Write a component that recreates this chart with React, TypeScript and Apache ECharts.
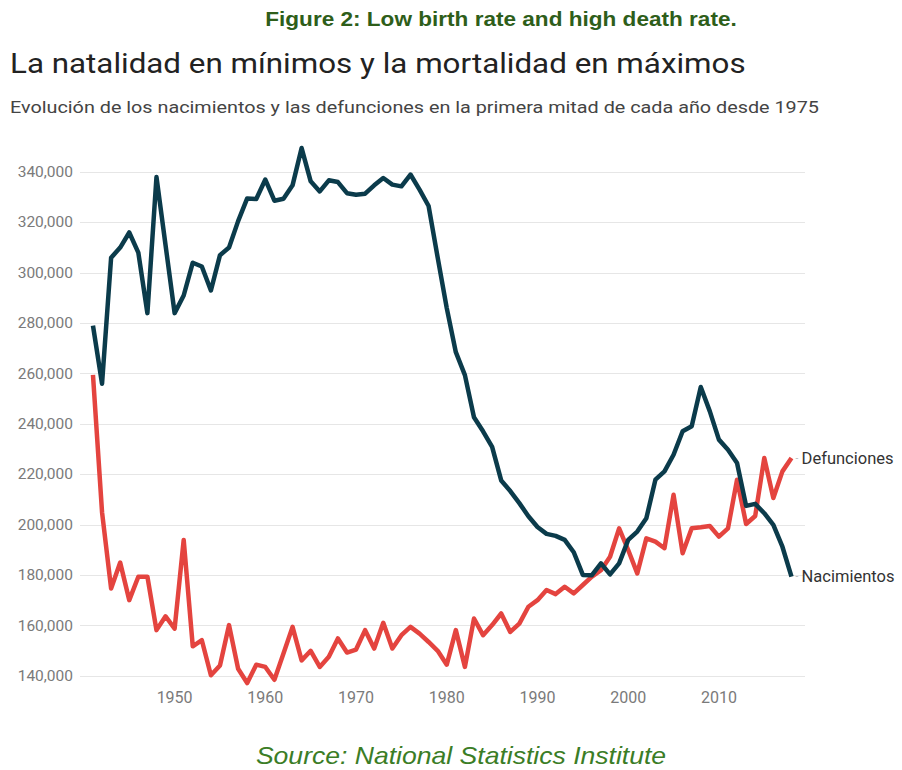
import React, { useEffect, useRef } from "react";
import * as echarts from "echarts";

const years = [
  1941, 1942, 1943, 1944, 1945, 1946, 1947, 1948, 1949, 1950,
  1951, 1952, 1953, 1954, 1955, 1956, 1957, 1958, 1959, 1960,
  1961, 1962, 1963, 1964, 1965, 1966, 1967, 1968, 1969, 1970,
  1971, 1972, 1973, 1974, 1975, 1976, 1977, 1978, 1979, 1980,
  1981, 1982, 1983, 1984, 1985, 1986, 1987, 1988, 1989, 1990,
  1991, 1992, 1993, 1994, 1995, 1996, 1997, 1998, 1999, 2000,
  2001, 2002, 2003, 2004, 2005, 2006, 2007, 2008, 2009, 2010,
  2011, 2012, 2013, 2014, 2015, 2016, 2017, 2018,
];

const nacimientos = [
  279000, 256000, 306000, 310000, 316000, 308000, 284000, 338000, 311000, 284000,
  291000, 304000, 302500, 293000, 307000, 310000, 320500, 329500, 329300, 337000,
  328600, 329400, 334700, 349500, 336300, 332300, 336700, 336000, 331600, 331000,
  331400, 334700, 337600, 335000, 334300, 339000, 333000, 326500, 306000, 286000,
  268500, 259400, 242700, 237100, 230900, 217600, 213400, 208600, 203400, 199100,
  196400, 195600, 194000, 189100, 180100, 180000, 184700, 180300, 184700, 194000,
  197300, 202600, 217900, 221200, 227800, 237100, 239100, 254700, 245000, 233800,
  229800, 224500, 207500, 208300, 204600, 200000, 191300, 179400,
];

const defunciones = [
  259500, 205000, 174700, 185000, 170100, 179400, 179400, 158200, 163700, 158800,
  194000, 151800, 154200, 140300, 144200, 160200, 142900, 137200, 144500, 143600,
  138500, 148900, 159500, 146200, 150000, 143600, 147600, 154900, 149300, 150500,
  158200, 150900, 161100, 150900, 156200, 159500, 156800, 153500, 150000, 144500,
  158200, 143600, 162800, 156200, 160200, 164800, 157500, 160800, 167500, 170100,
  174100, 172500, 175400, 172800, 176100, 179400, 182000, 187300, 198600, 190000,
  180700, 194600, 193300, 190700, 211900, 188700, 198600, 199000, 199500, 195300,
  198600, 217900, 200300, 203500, 226500, 210600, 221200, 226500,
];

const xTickYears = [1950, 1960, 1970, 1980, 1990, 2000, 2010];

const figureTitle = "Figure 2: Low birth rate and high death rate.";
const chartTitle = "La natalidad en mínimos y la mortalidad en máximos";
const chartSubtitle =
  "Evolución de los nacimientos y las defunciones en la primera mitad de cada año desde 1975";
const sourceText = "Source: National Statistics Institute";

const fmt = (v: number) => String(Math.round(v)).replace(/\B(?=(\d{3})+(?!\d))/g, ",");

export default function App() {
  const ref = useRef<HTMLDivElement>(null);
  useEffect(() => {
    const chart = echarts.init(ref.current!, null, { renderer: "svg" });
    const endLabel = {
      show: true,
      distance: 4,
      formatter: (p: any) => `{d|-} {t|${p.seriesName}}`,
      rich: {
        d: { color: "#bbbbbb", fontSize: 10, fontFamily: "Roboto" },
        t: { color: "#333333", fontSize: 16.5, fontFamily: "Roboto" },
      },
    };
    chart.setOption({
      animation: false,
      grid: { left: 80, right: 97, top: 172, bottom: 94 },
      xAxis: {
        type: "value",
        min: 1939.57,
        max: 2019.49,
        axisLine: { show: false },
        axisTick: { show: false },
        splitLine: { show: false },
        axisLabel: {
          customValues: xTickYears,
          formatter: (v: number) => String(v),
          color: "#7a7a7a",
          fontSize: 16,
          fontFamily: "Roboto",
          margin: 13,
        },
      },
      yAxis: {
        type: "value",
        min: 140000,
        max: 340000,
        interval: 20000,
        axisLine: { show: false },
        axisTick: { show: false },
        splitLine: { lineStyle: { color: "#e6e6e6", width: 1 } },
        axisLabel: {
          formatter: (v: number) => fmt(v),
          color: "#7a7a7a",
          fontSize: 15.5,
          fontFamily: "Roboto",
          margin: 7,
        },
      },
      series: [
        {
          name: "Defunciones",
          type: "line",
          data: years.map((y, i) => [y, defunciones[i]]),
          clip: false,
          symbol: "none",
          lineStyle: { width: 4.5, color: "#e4443f", join: "round" },
          itemStyle: { color: "#e4443f" },
          endLabel,
          z: 2,
        },
        {
          name: "Nacimientos",
          type: "line",
          data: years.map((y, i) => [y, nacimientos[i]]),
          clip: false,
          symbol: "none",
          lineStyle: { width: 4.5, color: "#0b3b4b", join: "round" },
          itemStyle: { color: "#0b3b4b" },
          endLabel,
          z: 3,
        },
      ],
      graphic: [
        {
          type: "text",
          x: 501,
          y: 19,
          scaleX: 1.075,
          style: {
            text: figureTitle,
            align: "center",
            verticalAlign: "middle",
            fontFamily: "'Liberation Sans', Arial, sans-serif",
            fontWeight: "bold",
            fontSize: 21,
            fill: "#2e5e1a",
          },
        },
        {
          type: "text",
          x: 10,
          y: 63,
          scaleX: 1.12,
          style: {
            text: chartTitle,
            align: "left",
            verticalAlign: "middle",
            fontFamily: "Roboto",
            fontSize: 28,
            fill: "#222222",
          },
        },
        {
          type: "text",
          x: 10,
          y: 107,
          scaleX: 1.165,
          style: {
            text: chartSubtitle,
            align: "left",
            verticalAlign: "middle",
            fontFamily: "Roboto",
            fontSize: 17,
            fill: "#444444",
          },
        },
        {
          type: "text",
          x: 461,
          y: 755,
          scaleX: 1.107,
          style: {
            text: sourceText,
            align: "center",
            verticalAlign: "middle",
            fontFamily: "'Liberation Sans', Arial, sans-serif",
            fontStyle: "italic",
            fontSize: 24,
            fill: "#3b7d26",
          },
        },
      ],
    });
    return () => chart.dispose();
  }, []);
  return (
    <div
      ref={ref}
      style={{ position: "absolute", left: 0, top: 0, width: 902, height: 770 }}
    />
  );
}
